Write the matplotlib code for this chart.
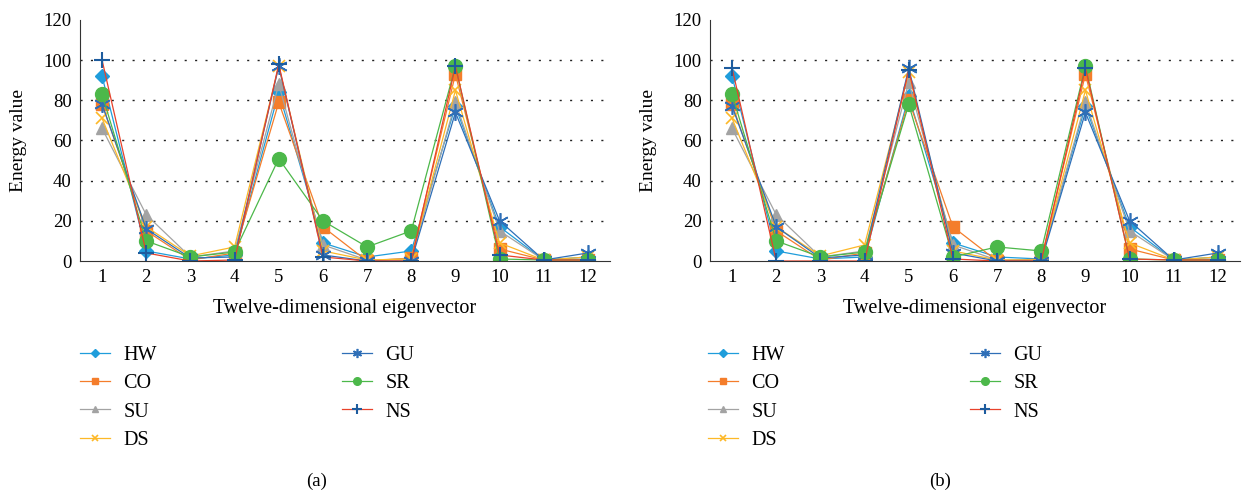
import numpy as np
import matplotlib
matplotlib.use('Agg')
import matplotlib.pyplot as plt

plt.rcParams['font.family'] = ['Liberation Serif', 'DejaVu Serif']

dims = list(range(1, 13))
names = ['HW', 'CO', 'SU', 'DS', 'GU', 'SR', 'NS']

# panel (a)
a_HW = [92, 5, 1, 3, 84, 9, 2, 5, 77, 17, 0.5, 2]
a_CO = [78, 15, 0.5, 4, 79, 17, 0, 1.5, 93, 6, 0.5, 0.5]
a_SU = [66, 23, 2, 5, 88, 8, 0.5, 1, 79, 15, 0.5, 1]
a_DS = [71, 17, 2.5, 7, 97, 5, 0.5, 1, 85, 9, 0.5, 2]
a_GU = [78, 16, 1.5, 2, 97, 3, 0, 0, 74, 20, 0.5, 4]
a_SR = [83, 10, 2, 4.5, 51, 20, 7, 15, 97, 1, 0.5, 0.5]
a_NS = [100, 4, 0, 0.5, 98, 2, 0, 0, 97, 3, 0.5, 0.5]

# panel (b)
b_HW = [92, 5, 1, 2, 82, 9, 2, 1, 77, 17, 0.5, 2]
b_CO = [78, 15, 0.5, 4, 80, 17, 0, 1, 93, 6, 0.5, 0.5]
b_SU = [66, 23, 2, 5, 89, 8, 0.5, 0.5, 79, 15, 0.5, 1]
b_DS = [71, 17, 2.5, 8, 94, 5, 0.5, 0.5, 85, 9, 0.5, 2]
b_GU = [77, 17, 1.5, 3, 96, 4, 0, 0, 74, 20, 0.5, 4]
b_SR = [83, 10, 2, 4.5, 78, 2, 7, 5, 97, 1, 0.5, 0.5]
b_NS = [96, 0, 0, 0, 95, 1, 0, 0, 96, 1, 0.5, 0.5]

styles = {
    'HW': dict(color='#1f9ddb', marker='D', ms=7),
    'CO': dict(color='#f47d2b', marker='s', ms=8.5),
    'SU': dict(color='#a3a3a3', marker='^', ms=9),
    'DS': dict(color='#fdb827', marker='x', ms=9, mew=1.2),
    'GU': dict(color='#2f6fb7', marker=(6, 2, 0), ms=12, mew=1.2),
    'SR': dict(color='#4cb84a', marker='o', ms=10),
    'NS': dict(color='#e8422b', marker='+', ms=12, mew=1.5, mec='#1d5c9e'),
}

W, H = 1246, 494
fig = plt.figure(figsize=(W / 100, H / 100), dpi=100)


def panel(left_px, series, leg_x, cap_x, cap):
    ax = fig.add_axes([left_px / W, 1 - 261 / H, 530 / W, 241 / H])
    for n, vals in zip(names, series):
        ax.plot(dims, vals, lw=0.9, label=n, **styles[n])
    ax.set_xlim(0.5, 12.5)
    ax.set_ylim(0, 120)
    ax.set_xticks(dims)
    ax.set_yticks(range(0, 121, 20))
    for y in range(20, 101, 20):
        ax.axhline(y, color='#222222', lw=1.0, ls=(0, (1.5, 6)), zorder=0)
    for s in ['top', 'right']:
        ax.spines[s].set_visible(False)
    ax.spines['left'].set_color('#333333')
    ax.spines['bottom'].set_color('#333333')
    ax.tick_params(axis='x', length=0, labelsize=13.5, pad=6)
    ax.tick_params(axis='y', length=0, labelsize=13.5, pad=6)
    ax.set_xlabel('Twelve-dimensional eigenvector', fontsize=14.5, labelpad=9)
    ax.set_ylabel('Energy value', fontsize=14, labelpad=12)
    ax.legend(ncol=2, loc='upper left', bbox_to_anchor=(leg_x / W, 1 - 328 / H),
              bbox_transform=fig.transFigure, frameon=False, fontsize=14.5,
              markerscale=0.55, handlelength=1.5, columnspacing=9.2,
              labelspacing=0.45, handletextpad=0.65)
    fig.text(cap_x / W, 1 - 481 / H, cap, ha='center', va='center', fontsize=13.5)
    return ax


panel(80, [a_HW, a_CO, a_SU, a_DS, a_GU, a_SR, a_NS], 62, 317, '(a)')
panel(710, [b_HW, b_CO, b_SU, b_DS, b_GU, b_SR, b_NS], 690, 940, '(b)')

fig.savefig('out.png', dpi=100)
